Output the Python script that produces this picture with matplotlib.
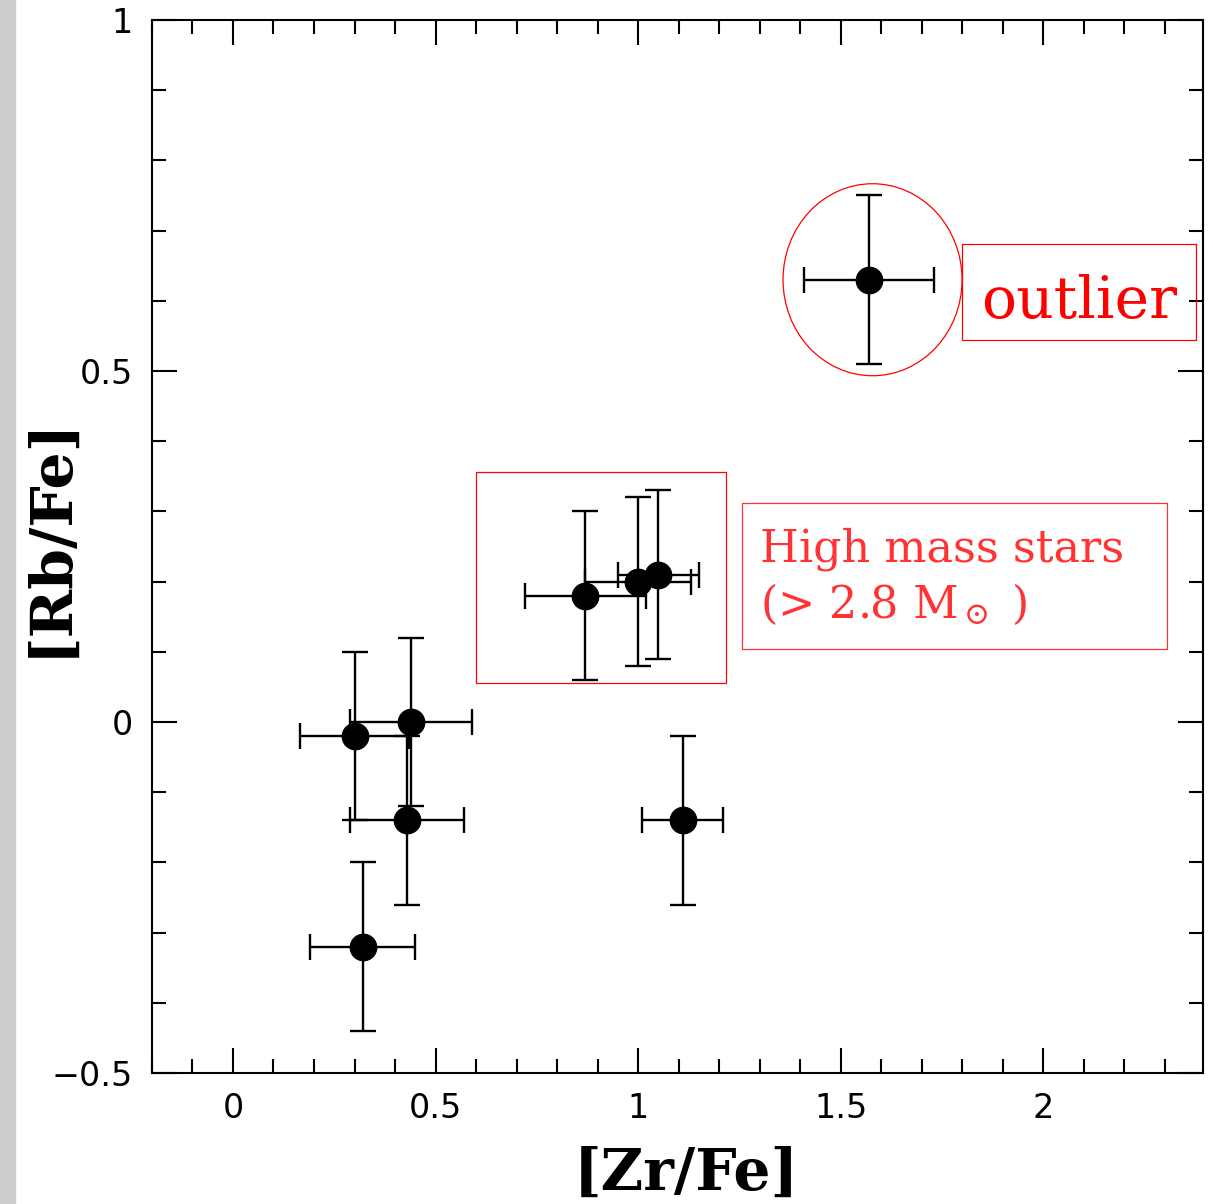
import matplotlib.pyplot as plt
from matplotlib.patches import Rectangle, Ellipse
from matplotlib.ticker import MultipleLocator, FuncFormatter

# [Zr/Fe] and [Rb/Fe] abundances with their uncertainties
zr_fe = [0.30, 0.44, 0.43, 0.32, 0.87, 1.00, 1.05, 1.11, 1.57]
rb_fe = [-0.02, 0.00, -0.14, -0.32, 0.18, 0.20, 0.21, -0.14, 0.63]
zr_err = [0.135, 0.15, 0.14, 0.13, 0.15, 0.13, 0.10, 0.10, 0.16]
rb_err = [0.12, 0.12, 0.12, 0.12, 0.12, 0.12, 0.12, 0.12, 0.12]

x_ticks = [0, 0.5, 1, 1.5, 2]
y_ticks = [-0.5, 0, 0.5, 1]

fig = plt.figure(figsize=(12.13, 12.04), dpi=100)
ax = fig.add_axes([0.1253, 0.1088, 0.8665, 0.8746])

# grey strip down the left edge
fig.patches.append(Rectangle((0, 0), 15 / 1213, 1, transform=fig.transFigure,
                             color='#cccccc', zorder=0))

ax.errorbar(zr_fe, rb_fe, xerr=zr_err, yerr=rb_err, fmt='o', color='black',
            markersize=19, elinewidth=1.7, capsize=9.5, capthick=1.7, zorder=3)

ax.set_xlim(-0.2, 2.395)
ax.set_ylim(-0.5, 1.0)

ax.xaxis.set_major_locator(MultipleLocator(0.5))
ax.xaxis.set_minor_locator(MultipleLocator(0.1))
ax.yaxis.set_major_locator(MultipleLocator(0.5))
ax.yaxis.set_minor_locator(MultipleLocator(0.1))
ax.set_xticks(x_ticks)
ax.set_yticks(y_ticks)
fmt = FuncFormatter(lambda v, pos: ('%g' % v).replace('-', '\u2212'))
ax.xaxis.set_major_formatter(fmt)
ax.yaxis.set_major_formatter(fmt)

ax.tick_params(which='both', direction='in', top=True, right=True,
               width=1.5, labelsize=24)
ax.tick_params(which='major', length=18)
ax.tick_params(which='minor', length=10)
ax.tick_params(axis='x', pad=14)
ax.tick_params(axis='y', pad=14)
for s in ax.spines.values():
    s.set_linewidth(1.5)

label_font = dict(family='DejaVu Serif', weight='bold', size=42)
ax.set_xlabel('[Zr/Fe]', **label_font)
ax.set_ylabel('[Rb/Fe]', **label_font)
ax.xaxis.set_label_coords(0.508, -0.069)
ax.yaxis.set_label_coords(-0.071, 0.51)

# circle around the outlier
ax.add_patch(Ellipse((1.579, 0.630), 0.442, 0.2735, fill=False,
                     edgecolor='red', linewidth=0.9, zorder=4))
# box around the high mass group
ax.add_patch(Rectangle((0.60, 0.055), 0.617, 0.301, fill=False,
                       edgecolor='red', linewidth=0.9, zorder=4))

# label boxes
ax.add_patch(Rectangle((0.7707, 0.6961), 0.2226, 0.0912, transform=ax.transAxes,
                       fill=False, edgecolor='red', linewidth=0.9, zorder=4))
ax.text(0.8825, 0.717, 'outlier', transform=ax.transAxes, ha='center',
        va='baseline', color='red', family='DejaVu Serif', size=42)

ax.add_patch(Rectangle((0.5614, 0.4027), 0.4043, 0.1386, transform=ax.transAxes,
                       fill=False, edgecolor='#ff3333', linewidth=0.9, zorder=4))
plt.rcParams['mathtext.fontset'] = 'dejavuserif'
ax.text(0.5785, 0.4853, 'High mass stars', transform=ax.transAxes, ha='left',
        va='baseline', color='#ff3333', family='DejaVu Serif', size=32)
ax.text(0.5785, 0.4321, r'(> 2.8 M$_\odot$ )', transform=ax.transAxes,
        ha='left', va='baseline', color='#ff3333', family='DejaVu Serif', size=32)

fig.savefig('out.png', dpi=100)
